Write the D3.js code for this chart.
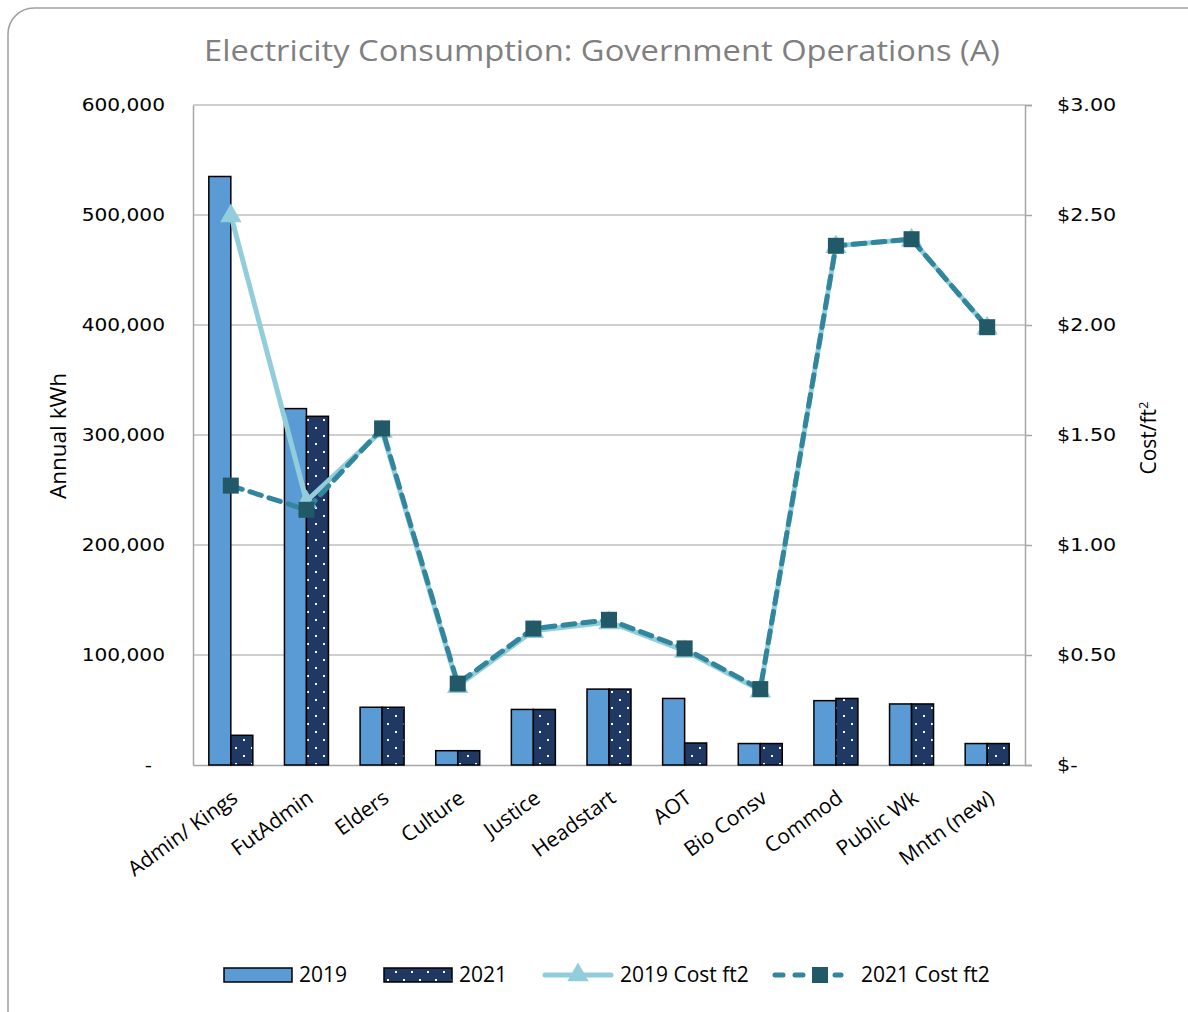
<!DOCTYPE html>
<html>
<head>
<meta charset="utf-8">
<script src="https://cdn.jsdelivr.net/npm/d3@7"></script>
<style>
  html, body { margin: 0; padding: 0; background: #fff; }
  svg { display: block; }
</style>
</head>
<body>
<svg id="chart" width="1188" height="1012"></svg>
<script>
// Buildings / departments
const categories = ["Admin/ Kings", "FutAdmin", "Elders", "Culture", "Justice", "Headstart",
                    "AOT", "Bio Consv", "Commod", "Public Wk", "Mntn (new)"];
// Annual electricity use (kWh)
const kwh2019 = [535000, 324000, 52500, 13000, 50500, 69000, 60500, 19500, 58500, 55500, 19500];
const kwh2021 = [27000, 317000, 52500, 13000, 50500, 69000, 20000, 19500, 60500, 55500, 19500];
// Cost per square foot ($)
const cost2019 = [2.50, 1.20, 1.52, 0.36, 0.61, 0.65, 0.52, 0.34, 2.36, 2.39, 1.99];
const cost2021 = [1.27, 1.16, 1.53, 0.37, 0.62, 0.66, 0.53, 0.345, 2.36, 2.39, 1.99];
// Axis ticks
const kwhTicks = [0, 100000, 200000, 300000, 400000, 500000, 600000];
const costTicks = [0, 0.5, 1.0, 1.5, 2.0, 2.5, 3.0];
const legendLabels = ["2019", "2021", "2019 Cost ft2", "2021 Cost ft2"];

const svg = d3.select("#chart");
const FONT = "'Open Sans', 'DejaVu Sans', sans-serif";
const TICKFONT = "'DejaVu Sans', Verdana, sans-serif";

const plot = { left: 193, right: 1025, top: 105, bottom: 765 };

const C = {
  bar19: "#5b9bd5",
  bar21: "#1f3864",
  line19: "#92cddc",
  line21: "#31859c",
  marker21: "#215968",
  grid: "#bfbfbf",
  axis: "#a6a6a6",
  title: "#7f7f7f",
  text: "#000"
};

// Chart border
svg.append("rect")
  .attr("x", 8).attr("y", 8)
  .attr("width", 1210).attr("height", 1040)
  .attr("rx", 26).attr("ry", 26)
  .attr("fill", "#fff")
  .attr("stroke", "#a0a0a0").attr("stroke-width", 1.5);

// Dot pattern for 2021 bars
const defs = svg.append("defs");
const pat = defs.append("pattern")
  .attr("id", "dots21")
  .attr("patternUnits", "userSpaceOnUse")
  .attr("width", 16).attr("height", 16);
pat.append("rect").attr("width", 16).attr("height", 16).attr("fill", C.bar21);
pat.append("rect").attr("x", 3).attr("y", 3).attr("width", 2).attr("height", 2).attr("fill", "#fff");
pat.append("rect").attr("x", 11).attr("y", 11).attr("width", 2).attr("height", 2).attr("fill", "#fff");

// Scales
const x = d3.scaleBand().domain(categories).range([plot.left, plot.right]).paddingInner(0).paddingOuter(0);
const xSub = d3.scaleBand().domain(["2019", "2021"]).range([0, 44]);
const groupOffset = (x.bandwidth() - 44) / 2;
const yL = d3.scaleLinear().domain([0, 600000]).range([plot.bottom, plot.top]);
const yR = d3.scaleLinear().domain([0, 3]).range([plot.bottom, plot.top]);

// Title
svg.append("text")
  .attr("x", 204).attr("y", 61)
  .attr("textLength", 796).attr("lengthAdjust", "spacingAndGlyphs")
  .attr("font-family", FONT).attr("font-size", 30)
  .attr("fill", C.title)
  .text("Electricity Consumption: Government Operations (A)");

// Gridlines
svg.append("g").selectAll("line")
  .data(kwhTicks.filter(d => d > 0))
  .join("line")
  .attr("x1", plot.left).attr("x2", plot.right)
  .attr("y1", d => yL(d)).attr("y2", d => yL(d))
  .attr("stroke", C.grid).attr("stroke-width", 1.5);

// Left axis
const leftAxis = svg.append("g")
  .attr("transform", `translate(${plot.left},0)`)
  .call(d3.axisLeft(yL).tickValues(kwhTicks).tickSize(0).tickPadding(28)
    .tickFormat(d => d === 0 ? "-" : d3.format(",")(d)));
leftAxis.select(".domain").attr("stroke", C.axis).attr("stroke-width", 1.5);
leftAxis.selectAll("text")
  .attr("font-family", TICKFONT).attr("font-size", 18).attr("fill", C.text)
  .attr("x", 0)
  .attr("transform", d => `translate(${d === 0 ? -41 : -28},0) scale(1.12,1)`);

// Right axis
const rightAxis = svg.append("g")
  .attr("transform", `translate(${plot.right},0)`)
  .call(d3.axisRight(yR).tickValues(costTicks).tickSize(7).tickPadding(25)
    .tickFormat(d => d === 0 ? "$-" : d3.format("$.2f")(d)));
rightAxis.select(".domain").attr("stroke", C.axis).attr("stroke-width", 1.5);
rightAxis.selectAll(".tick line").attr("stroke", C.axis).attr("stroke-width", 1.5);
rightAxis.selectAll("text")
  .attr("font-family", TICKFONT).attr("font-size", 18).attr("fill", C.text)
  .attr("x", 0)
  .attr("transform", "translate(32,0) scale(1.15,1)");

// Bottom axis
const bottomAxis = svg.append("g")
  .attr("transform", `translate(0,${plot.bottom})`)
  .call(d3.axisBottom(x).tickSize(0).tickPadding(0));
bottomAxis.select(".domain").attr("stroke", C.axis).attr("stroke-width", 1.5);
bottomAxis.selectAll("text")
  .attr("font-family", FONT).attr("font-size", 21).attr("fill", C.text)
  .attr("text-anchor", "end")
  .attr("transform", "translate(4,30) rotate(-36)")
  .attr("dy", "0.35em");

// Axis titles
svg.append("text")
  .attr("transform", "translate(66,436) rotate(-90)")
  .attr("text-anchor", "middle")
  .attr("font-family", FONT).attr("font-size", 22.5).attr("fill", C.text)
  .text("Annual kWh");
const rt = svg.append("text")
  .attr("transform", "translate(1156,438) rotate(-90)")
  .attr("text-anchor", "middle")
  .attr("font-family", FONT).attr("font-size", 21).attr("fill", C.text);
rt.append("tspan").text("Cost/ft");
rt.append("tspan").attr("font-size", 13).attr("dy", -8).text("2");

// Bars
const barData = categories.map((c, i) => ({ c, i, v19: kwh2019[i], v21: kwh2021[i] }));
const bars = svg.append("g");
bars.selectAll("rect.b19").data(barData).join("rect")
  .attr("class", "b19")
  .attr("x", d => x(d.c) + groupOffset + xSub("2019"))
  .attr("y", d => yL(d.v19))
  .attr("width", xSub.bandwidth())
  .attr("height", d => yL(0) - yL(d.v19))
  .attr("fill", C.bar19).attr("stroke", "#000").attr("stroke-width", 1.5);
bars.selectAll("rect.b21").data(barData).join("rect")
  .attr("class", "b21")
  .attr("x", d => x(d.c) + groupOffset + xSub("2021"))
  .attr("y", d => yL(d.v21))
  .attr("width", xSub.bandwidth())
  .attr("height", d => yL(0) - yL(d.v21))
  .attr("fill", "url(#dots21)").attr("stroke", "#000").attr("stroke-width", 1.5);

// Cost lines
const cx = c => x(c) + x.bandwidth() / 2;
const line = d3.line().x(d => cx(d.c)).y(d => yR(d.v));
const pts19 = categories.map((c, i) => ({ c, v: cost2019[i] }));
const pts21 = categories.map((c, i) => ({ c, v: cost2021[i] }));

svg.append("path").datum(pts19)
  .attr("d", line).attr("fill", "none")
  .attr("stroke", C.line19).attr("stroke-width", 5).attr("stroke-linejoin", "round");
svg.append("g").selectAll("path").data(pts19).join("path")
  .attr("d", d3.symbol().type(d3.symbolTriangle).size(200))
  .attr("transform", d => `translate(${cx(d.c)},${yR(d.v) + 1})`)
  .attr("fill", C.line19);

svg.append("path").datum(pts21)
  .attr("d", line).attr("fill", "none")
  .attr("stroke", C.line21).attr("stroke-width", 5)
  .attr("stroke-dasharray", "12,8").attr("stroke-linecap", "round").attr("stroke-linejoin", "round");
svg.append("g").selectAll("rect").data(pts21).join("rect")
  .attr("x", d => cx(d.c) - 8).attr("y", d => yR(d.v) - 8)
  .attr("width", 16).attr("height", 16)
  .attr("fill", C.marker21);

// Legend
const lg = svg.append("g").attr("font-family", FONT).attr("font-size", 21).attr("fill", C.text);
const ly = 975;
lg.append("rect").attr("x", 224).attr("y", ly - 7).attr("width", 68).attr("height", 14)
  .attr("fill", C.bar19).attr("stroke", "#000").attr("stroke-width", 1.5);
lg.append("text").attr("x", 299).attr("y", ly).attr("dy", "0.35em").text(legendLabels[0]);
lg.append("rect").attr("x", 384).attr("y", ly - 7).attr("width", 68).attr("height", 14)
  .attr("fill", "url(#dots21)").attr("stroke", "#000").attr("stroke-width", 1.5);
lg.append("text").attr("x", 459).attr("y", ly).attr("dy", "0.35em").text(legendLabels[1]);
lg.append("line").attr("x1", 545).attr("x2", 611).attr("y1", ly).attr("y2", ly)
  .attr("stroke", C.line19).attr("stroke-width", 5).attr("stroke-linecap", "round");
lg.append("path").attr("d", d3.symbol().type(d3.symbolTriangle).size(200))
  .attr("transform", `translate(578,${ly})`).attr("fill", C.line19);
lg.append("text").attr("x", 620).attr("y", ly).attr("dy", "0.35em").text(legendLabels[2]);
lg.append("line").attr("x1", 775).attr("x2", 841).attr("y1", ly).attr("y2", ly)
  .attr("stroke", C.line21).attr("stroke-width", 5)
  .attr("stroke-dasharray", "8,12").attr("stroke-linecap", "round");
lg.append("rect").attr("x", 812).attr("y", ly - 8).attr("width", 16).attr("height", 16)
  .attr("fill", C.marker21);
lg.append("text").attr("x", 861).attr("y", ly).attr("dy", "0.35em").text(legendLabels[3]);
</script>
</body>
</html>
